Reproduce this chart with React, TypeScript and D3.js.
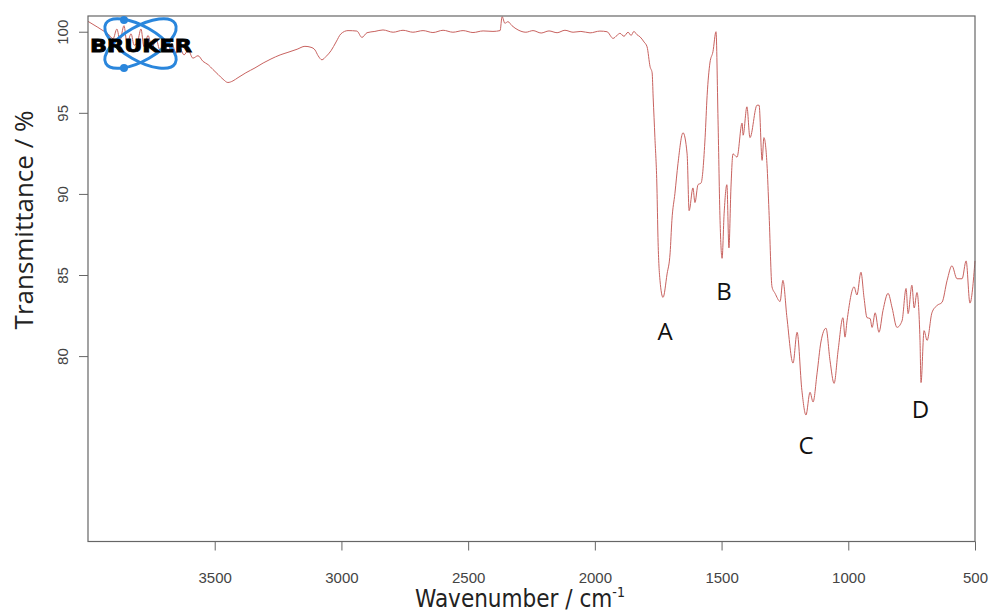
import React, { useEffect, useRef } from "react";
import * as d3 from "d3";

// spectrum, wavenumber (cm-1) and transmittance (%)
const wavenumbers = [
  4000, 3961, 3941, 3921, 3901, 3886, 3874, 3858, 3846, 3830, 3818, 3803, 3791, 3779, 3763, 3747,
  3732, 3716, 3700, 3684, 3669, 3653, 3637, 3621, 3605, 3586, 3566, 3546, 3526, 3507, 3487, 3467,
  3448, 3428, 3408, 3377, 3341, 3309, 3278, 3242, 3211, 3175, 3144, 3120, 3104, 3092, 3077, 3061,
  3041, 3021, 3002, 2974, 2939, 2919, 2899, 2868, 2836, 2796, 2757, 2718, 2678, 2639, 2599, 2560,
  2520, 2481, 2441, 2402, 2374, 2366, 2355, 2343, 2327, 2303, 2272, 2244, 2212, 2181, 2149, 2118,
  2086, 2055, 2019, 1980, 1952, 1928, 1913, 1901, 1885, 1869, 1857, 1846, 1834, 1822, 1806, 1794,
  1782, 1774, 1770, 1763, 1755, 1751, 1743, 1731, 1715, 1703, 1696, 1684, 1672, 1652, 1636, 1628,
  1613, 1605, 1593, 1581, 1565, 1557, 1546, 1534, 1522, 1514, 1506, 1498, 1490, 1479, 1471, 1463,
  1455, 1439, 1419, 1415, 1400, 1388, 1360, 1352, 1340, 1333, 1321, 1313, 1301, 1289, 1269, 1258,
  1242, 1218, 1202, 1183, 1167, 1151, 1139, 1123, 1108, 1088, 1072, 1056, 1040, 1021, 1013, 1005,
  977, 966, 950, 938, 926, 914, 906, 894, 879, 863, 843, 827, 808, 788, 772, 764,
  749, 740, 729, 717, 713, 701, 689, 670, 650, 630, 610, 591, 571, 551, 535, 520,
  500,
];
const transmittance = [
  100.67, 100.3, 100.1, 99.9, 99.6, 100.2, 99.5, 100.4, 99.3, 99.9, 99.2, 99.5, 100.2, 99.1, 99.8, 99.0,
  99.6, 98.9, 99.5, 98.8, 99.3, 98.7, 99.0, 98.6, 98.9, 98.4, 98.55, 98.2, 98.0, 97.7, 97.4, 97.1,
  96.9, 97.0, 97.2, 97.5, 97.8, 98.1, 98.35, 98.6, 98.76, 98.95, 99.13, 99.07, 98.9, 98.55, 98.3, 98.5,
  98.86, 99.4, 99.9, 100.1, 100.07, 99.68, 99.97, 100.05, 100.14, 100.0, 100.12, 100.0, 100.1, 99.98, 100.12, 100.0,
  100.1, 99.98, 100.08, 100.05, 100.1, 100.96, 100.55, 100.65, 100.4, 100.14, 100.0, 100.1, 99.95, 100.08, 99.97, 100.12,
  100.0, 100.05, 99.96, 100.07, 100.03, 99.62, 99.8, 99.93, 99.75, 100.0, 99.8, 100.05, 99.85, 99.72, 99.4, 99.1,
  97.87, 97.5, 96.0, 93.5, 90.4, 87.35, 84.7, 83.65, 85.1, 86.4, 88.4, 90.07, 91.9, 93.8, 92.5, 89.0,
  90.4, 89.5, 90.6, 90.7, 93.5, 96.1, 98.1, 98.8, 100.03, 94.6, 88.4, 86.06, 88.8, 90.6, 86.7, 90.4,
  92.5, 92.3, 94.4, 93.65, 95.4, 93.5, 95.5, 95.5, 92.1, 93.5, 91.9, 89.0, 84.3, 83.9, 83.4, 84.7,
  82.4, 79.6, 81.5, 77.9, 76.4, 77.8, 77.2, 79.0, 80.9, 81.75, 79.75, 78.35, 80.4, 82.4, 81.2, 82.2,
  84.3, 83.8, 85.2, 83.65, 82.4, 82.35, 81.8, 82.7, 81.5, 82.85, 83.9, 83.0, 81.8, 82.2, 84.2, 82.65,
  84.4, 83.0, 83.95, 81.0, 78.4, 81.6, 81.0, 82.7, 83.15, 83.35, 84.7, 85.6, 84.8, 84.8, 85.9, 83.3,
  85.9,
];

const xTicks = [3500, 3000, 2500, 2000, 1500, 1000, 500];
const yTicks = [80, 85, 90, 95, 100];

// peak letters, anchored at (wavenumber, transmittance) of their baseline
const peakLabels = ["A", "B", "C", "D"];
const peakWavenumbers = [1723, 1490, 1167, 715];
const peakLevels = [81.0, 83.5, 74.0, 76.2];

const width = 990;
const height = 614;
const margin = { top: 16, right: 15, bottom: 72.5, left: 88 };

export default function App() {
  const ref = useRef<SVGSVGElement>(null);

  useEffect(() => {
    const svg = d3.select(ref.current);
    svg.selectAll("*").remove();

    const x = d3
      .scaleLinear()
      .domain([4000, 500])
      .range([margin.left, width - margin.right]);
    const y = d3
      .scaleLinear()
      .domain([68.6, 101.0])
      .range([height - margin.bottom, margin.top]);

    const data = wavenumbers.map((w, i) => [w, transmittance[i]] as [number, number]);

    const line = d3
      .line<[number, number]>()
      .x(d => x(d[0]))
      .y(d => y(d[1]))
      .curve(d3.curveMonotoneX);

    svg
      .append("path")
      .datum(data)
      .attr("d", line)
      .attr("fill", "none")
      .attr("stroke", "#c8625f")
      .attr("stroke-width", 1);

    // frame
    svg
      .append("rect")
      .attr("x", margin.left)
      .attr("y", margin.top)
      .attr("width", width - margin.left - margin.right)
      .attr("height", height - margin.top - margin.bottom)
      .attr("fill", "none")
      .attr("stroke", "#666")
      .attr("stroke-width", 1.2);

    // x axis
    const xAxis = d3
      .axisBottom(x)
      .tickValues(xTicks)
      .tickSize(9)
      .tickPadding(22)
      .tickFormat(d => String(d));
    const gx = svg
      .append("g")
      .attr("transform", `translate(0,${height - margin.bottom})`)
      .call(xAxis);
    gx.select(".domain").remove();
    gx.selectAll("line").attr("stroke", "#666");
    gx.selectAll("text")
      .attr("fill", "#444")
      .attr("font-family", "Liberation Sans, Arial, sans-serif")
      .attr("font-size", 15);

    // y axis, labels parallel to the axis
    const gy = svg.append("g");
    gy.selectAll("line")
      .data(yTicks)
      .join("line")
      .attr("x1", margin.left - 9)
      .attr("x2", margin.left)
      .attr("y1", d => y(d))
      .attr("y2", d => y(d))
      .attr("stroke", "#666");
    gy.selectAll("text")
      .data(yTicks)
      .join("text")
      .attr("transform", d => `translate(${margin.left - 20},${y(d)}) rotate(-90)`)
      .attr("text-anchor", "middle")
      .attr("fill", "#444")
      .attr("font-family", "Liberation Sans, Arial, sans-serif")
      .attr("font-size", 15)
      .text(d => d);

    // titles
    svg
      .append("text")
      .attr("transform", `translate(33,220) rotate(-90)`)
      .attr("text-anchor", "middle")
      .attr("font-family", "Open Sans, sans-serif")
      .attr("font-size", 26)
      .attr("fill", "#222")
      .text("Transmittance / %");

    const xt = svg
      .append("text")
      .attr("x", 520)
      .attr("y", 607)
      .attr("text-anchor", "middle")
      .attr("font-family", "DejaVu Sans Condensed, DejaVu Sans, sans-serif")
      .attr("font-size", 24)
      .attr("fill", "#222");
    xt.append("tspan").text("Wavenumber / cm");
    xt.append("tspan").attr("dy", -10).attr("font-size", 14).text("-1");

    // peak letters
    svg
      .append("g")
      .selectAll("text")
      .data(peakLabels)
      .join("text")
      .attr("x", (d, i) => x(peakWavenumbers[i]))
      .attr("y", (d, i) => y(peakLevels[i]))
      .attr("text-anchor", "middle")
      .attr("font-family", "Open Sans, sans-serif")
      .attr("font-size", 24)
      .attr("fill", "#111")
      .text(d => d);

    // Bruker logo
    const logo = svg.append("g");
    [30, -30].forEach(a => {
      logo
        .append("ellipse")
        .attr("cx", 140.5)
        .attr("cy", 43.5)
        .attr("rx", 40)
        .attr("ry", 17)
        .attr("transform", `rotate(${a},140.5,43.5)`)
        .attr("fill", "none")
        .attr("stroke", "#2a86dc")
        .attr("stroke-width", 3);
    });
    [20, 68].forEach(cy => {
      logo.append("circle").attr("cx", 124).attr("cy", cy).attr("r", 4).attr("fill", "#2a86dc");
    });
    logo
      .append("text")
      .attr("x", 90)
      .attr("y", 51.5)
      .attr("font-family", "DejaVu Sans, sans-serif")
      .attr("font-weight", "bold")
      .attr("font-size", 17)
      .attr("textLength", 102)
      .attr("lengthAdjust", "spacingAndGlyphs")
      .attr("fill", "#000")
      .attr("stroke", "#000")
      .attr("stroke-width", 0.8)
      .text("BRUKER");
  }, []);

  return (
    <svg
      ref={ref}
      width={width}
      height={height}
      style={{ position: "absolute", left: 0, top: 0, background: "#fff" }}
    />
  );
}
